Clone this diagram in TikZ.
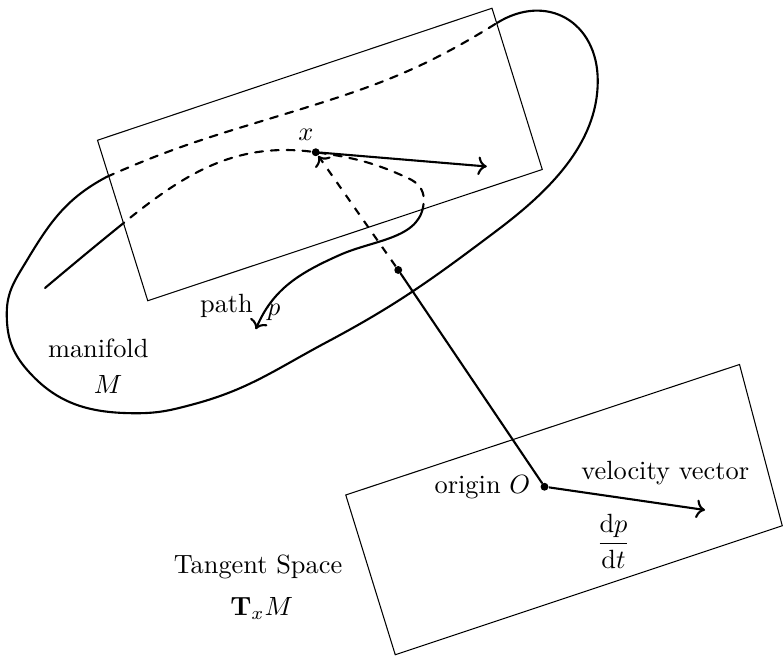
\documentclass[tikz,border=0pt]{standalone}
\usepackage{amsmath}
\usetikzlibrary{arrows.meta,positioning}
\definecolor{Ink}{HTML}{000000}
\tikzset{plane/.style={draw=Ink,line width=0.4pt},curve/.style={draw=Ink,thick,line cap=round},vec/.style={draw=Ink,thick,->},dot/.style={circle,fill=Ink,inner sep=0pt,minimum size=3pt},lbl/.style={text=Ink,inner sep=1pt}}
\newcommand{\manifoldloop}{(1.42,6.40) to[out=24,in=197] (3.90,7.27) to[out=17,in=212] (6.62,8.45) to[out=32,in=90,looseness=1.3] (7.97,7.68) to[out=-90,in=37,looseness=0.9] (6.63,5.69) to[out=217,in=28] (4.36,4.20) to[out=208,in=15] (2.58,3.37) to[out=195,in=0] (1.82,3.25) to[out=180,in=-49] (0.36,3.83) to[out=131,in=-90] (0.09,4.58) to[out=90,in=239] (0.36,5.29) to[out=59,in=208] cycle}
\newcommand{\curvepath}{(0.60,4.92) to[out=40,in=219] (1.64,5.78) to[out=39,in=172] (4.21,6.73) to[out=-8,in=155] (5.45,6.38) to[out=-25,in=90] (5.65,6.10) to[out=-90,in=24] (4.53,5.36) to[out=204,in=67] (3.41,4.37)}
\newcommand{\upperplane}{(1.30,6.89)--(6.56,8.65)--(7.23,6.50)--(1.97,4.75)--cycle}

\begin{document}
\begin{tikzpicture}[x=1cm,y=1cm]
\useasboundingbox (0,0) rectangle (10.453,8.76);
\draw[plane] \upperplane;
\draw[plane] (4.61,2.16)--(9.86,3.90)--(10.43,1.75)--(5.27,0.03)--cycle;
\begin{scope}\clip \upperplane;
\draw[curve,dashed] \manifoldloop;\draw[curve,dashed] \curvepath;
\end{scope}
\begin{scope}[even odd rule]\clip (0,0)--(10.453,0)--(10.453,8.76)--(0,8.76)--cycle \upperplane;
\draw[curve] \manifoldloop;\draw[curve,->] \curvepath;
\end{scope}
\node[dot] (x) at (4.21,6.73) {};\node[dot] (mid) at (5.31,5.16) {};\node[dot] (O) at (7.26,2.27) {};
\coordinate (vx) at (6.49,6.54);\coordinate (vO) at (9.40,1.96);
\draw[vec] (x)--(vx);\draw[vec,dashed] (mid)--(x);\draw[curve] (O)--(mid);\draw[vec] (O)--(vO);
\node[lbl] (xlab) at (4.08,6.96) {$x$};
\node[lbl] (pathlab) at (3.02,4.68) {path};\node[lbl] (plab) at (3.65,4.60) {$p$};
\node[lbl] (manlab) at (1.31,4.12) {manifold};\node[lbl] (Mlab) at (1.44,3.63) {$M$};
\node[lbl,left=2.5pt of O] (Olab) {origin $O$};
\node[lbl] (vlab) at (8.87,2.45) {velocity vector};
\node[lbl] (dlab) at (8.18,1.54) {$\displaystyle\frac{\mathrm{d}p}{\mathrm{d}t}$};
\node[lbl] (tslab) at (3.44,1.20) {Tangent Space};\node[lbl] (txlab) at (3.49,0.65) {$\mathbf{T}_xM$};
\end{tikzpicture}
\end{document}
